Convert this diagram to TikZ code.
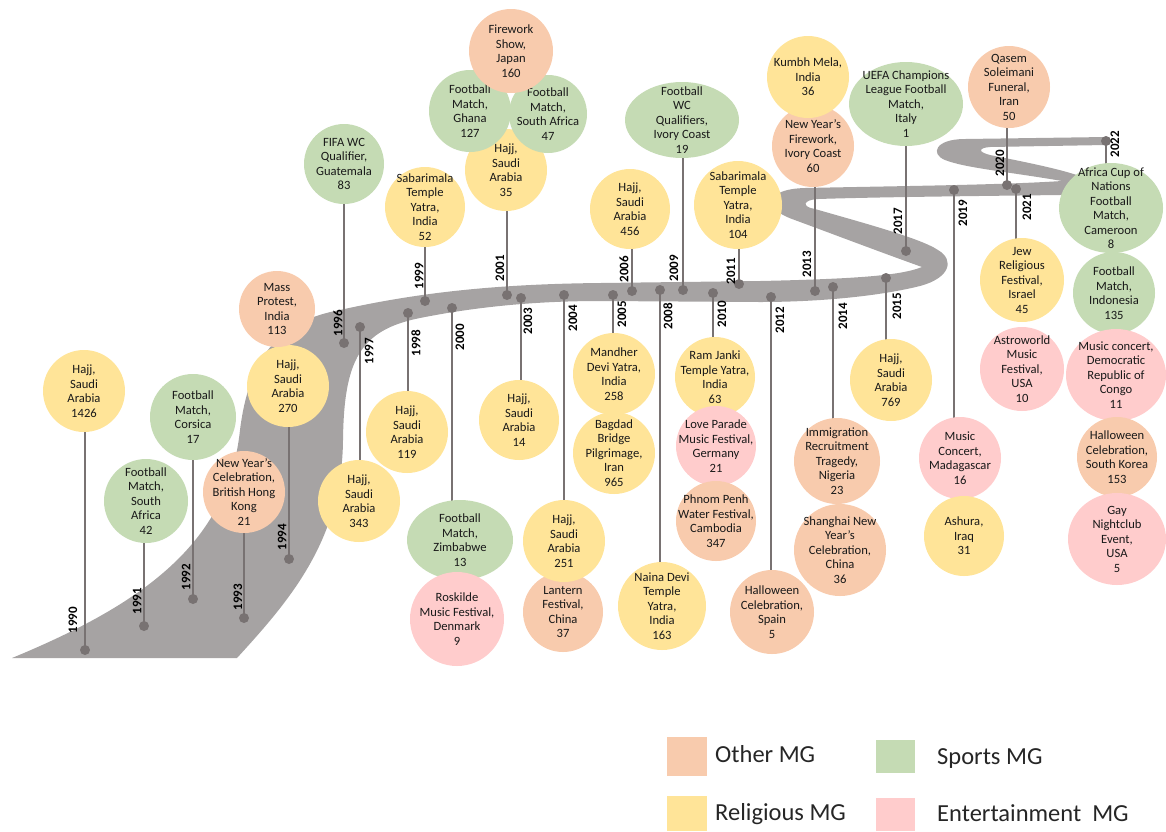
\documentclass[tikz,border=0pt]{standalone}
\usepackage{fontspec}
\setmainfont{Carlito}
\usetikzlibrary{shapes.geometric}
\definecolor{cOth}{RGB}{248,203,173}
\definecolor{cSpo}{RGB}{197,219,180}
\definecolor{cRel}{RGB}{255,228,152}
\definecolor{cEnt}{RGB}{255,204,204}
\definecolor{cRoad}{RGB}{166,163,163}
\definecolor{cStem}{RGB}{120,114,114}
\definecolor{cTxt}{RGB}{25,25,25}
\pgfdeclarelayer{roadl}
\pgfdeclarelayer{steml}
\pgfsetlayers{roadl,steml,main}
\tikzset{
 txt/.style={align=center, inner sep=0pt, text=cTxt, font=\fontsize{12.6}{14.5}\selectfont},
 ci/.style={circle, inner sep=0pt, minimum size=#1},
 el/.style 2 args={ellipse, inner sep=0pt, minimum width=#1, minimum height=#2},
 oth/.style={fill=cOth}, spo/.style={fill=cSpo}, rel/.style={fill=cRel}, ent/.style={fill=cEnt},
 stem/.style={draw=cStem, line width=2.6pt},
 dotn/.style={circle, fill=cStem, inner sep=0pt, minimum size=10pt},
 yr/.style={rotate=90, inner sep=0pt, text=black, font=\fontsize{13}{13}\selectfont\bfseries},
 legt/.style={anchor=base west, inner sep=0pt, font=\fontsize{24.5}{28}\selectfont, text=black!85},
}
\newcommand\ev[4]{\node[#2] (#1) at #3 {}; \node[txt] (#1t) at (#1.center) {#4};}
\begin{document}
\begin{tikzpicture}[x=1pt,y=-1pt]
\useasboundingbox (0,0) rectangle (1166,831);
% road
\begin{pgfonlayer}{roadl}
\fill[cRoad] (12,658) .. controls (140,605) and (228,545) .. (240,430)
 .. controls (250,350) and (285,320) .. (340,310)
 .. controls (420,292) and (500,284) .. (600,283)
 -- (760,281)
 .. controls (850,279) and (900,276) .. (922,267)
 .. controls (880,252) and (830,233) .. (792,219)
 .. controls (762,208) and (765,189) .. (805,188)
 .. controls (900,186) and (1000,185) .. (1062,181)
 .. controls (1010,172) and (965,168) .. (945,160)
 .. controls (930,154) and (935,139) .. (965,139)
 -- (1106,137)
 .. controls (1112,137) and (1112,145) .. (1106,145)
 -- (990,147)
 .. controls (978,148) and (978,152) .. (990,155)
 .. controls (1030,163) and (1065,170) .. (1085,178)
 .. controls (1098,184) and (1090,195) .. (1060,195)
 .. controls (980,196) and (880,197) .. (818,199)
 .. controls (802,200) and (802,207) .. (815,209)
 .. controls (860,222) and (920,238) .. (938,250)
 .. controls (955,260) and (950,278) .. (920,286)
 .. controls (880,296) and (820,302) .. (760,302)
 -- (600,301)
 .. controls (540,301) and (480,306) .. (420,318)
 .. controls (360,330) and (344,360) .. (343,440)
 .. controls (342,540) and (290,600) .. (237,658)
 -- cycle;
\end{pgfonlayer}
% events
\ev{c1}{ci=82pt,rel}{(84,391)}{Hajj,\\Saudi\\Arabia\\1426}
\ev{c2}{ci=84pt,spo}{(146,501)}{Football\\Match,\\South\\Africa\\42}
\ev{c3}{ci=86pt,spo}{(193,417)}{Football\\Match,\\Corsica\\17}
\ev{c4}{ci=82pt,oth}{(244,492)}{New Year’s\\Celebration,\\British Hong\\Kong\\21}
\ev{c5}{ci=82pt,rel}{(288,386)}{Hajj,\\Saudi\\Arabia\\270}
\ev{c6}{ci=76pt,oth}{(277,309)}{Mass\\Protest,\\India\\113}
\ev{c7}{ci=80pt,spo}{(344,164)}{FIFA WC\\Qualifier,\\Guatemala\\83}
\ev{c8}{ci=82pt,rel}{(359,501)}{Hajj,\\Saudi\\Arabia\\343}
\ev{c9}{ci=82pt,rel}{(407,432)}{Hajj,\\Saudi\\Arabia\\119}
\ev{c10}{ci=80pt,rel}{(425,207)}{Sabarimala\\Temple\\Yatra,\\India\\52}
\ev{c11}{el={106pt}{80pt},spo}{(460,540)}{Football\\Match,\\Zimbabwe\\13}
\ev{c12}{ci=94pt,ent}{(457,619)}{Roskilde\\Music Festival,\\Denmark\\9}
\ev{c13}{ci=80pt,rel}{(519,420)}{Hajj,\\Saudi\\Arabia\\14}
\ev{c14}{ci=82pt,rel}{(506,170)}{Hajj,\\Saudi\\Arabia\\35}
\ev{c15}{ci=82pt,spo}{(470,111)}{Football\\Match,\\Ghana\\127}
\ev{c16}{ci=78pt,spo}{(548,114)}{Football\\Match,\\South Africa\\47}
\ev{c17}{ci=84pt,oth}{(511,51)}{Firework\\Show,\\Japan\\160}
\ev{c18}{ci=82pt,rel}{(614,374)}{Mandher\\Devi Yatra,\\India\\258}
\ev{c19}{ci=82pt,rel}{(614,453)}{Bagdad\\Bridge\\Pilgrimage,\\Iran\\965}
\ev{c21}{ci=80pt,oth}{(563,612)}{Lantern\\Festival,\\China\\37}
\ev{c20}{ci=82pt,rel}{(564,541)}{Hajj,\\Saudi\\Arabia\\251}
\ev{c22}{ci=88pt,rel}{(662,606)}{Naina Devi\\Temple\\Yatra,\\India\\163}
\ev{c23}{ci=80pt,rel}{(630,209)}{Hajj,\\Saudi\\Arabia\\456}
\ev{c24}{el={114pt}{76pt},spo}{(682,120)}{Football\\WC\\Qualifiers,\\Ivory Coast\\19}
\ev{c25}{ci=80pt,rel}{(715,377)}{Ram Janki\\Temple Yatra,\\India\\63}
\ev{c26}{ci=80pt,ent}{(716,446)}{Love Parade\\Music Festival,\\Germany\\21}
\ev{c27}{ci=80pt,oth}{(716,521)}{Phnom Penh\\Water Festival,\\Cambodia\\347}
\ev{c28}{ci=88pt,rel}{(738,205)}{Sabarimala\\Temple\\Yatra,\\India\\104}
\ev{c29}{ci=84pt,oth}{(772,612)}{Halloween\\Celebration,\\Spain\\5}
\ev{c30}{ci=82pt,oth}{(813,146)}{New Year’s\\Firework,\\Ivory Coast\\60}
\ev{c31}{ci=82pt,rel}{(808,77)}{Kumbh Mela,\\India\\36}
\ev{c32}{ci=86pt,oth}{(837,461)}{Immigration\\Recruitment\\Tragedy,\\Nigeria\\23}
\ev{c33}{ci=92pt,oth}{(840,550)}{Shanghai New\\Year’s\\Celebration,\\China\\36}
\ev{c34}{ci=82pt,rel}{(891,380)}{Hajj,\\Saudi\\Arabia\\769}
\ev{c35}{el={114pt}{84pt},spo}{(906,104)}{UEFA Champions\\League Football\\Match,\\Italy\\1}
\ev{c36}{ci=82pt,ent}{(960,458)}{Music\\Concert,\\Madagascar\\16}
\ev{c37}{ci=80pt,rel}{(964,536)}{Ashura,\\Iraq\\31}
\ev{c38}{ci=82pt,oth}{(1009,87)}{Qasem\\Soleimani\\Funeral,\\Iran\\50}
\ev{c39}{ci=84pt,rel}{(1022,280)}{Jew\\Religious\\Festival,\\Israel\\45}
\ev{c40}{ci=84pt,ent}{(1022,369)}{Astroworld\\Music\\Festival,\\USA\\10}
\ev{c41}{el={104pt}{90pt},spo}{(1111,208)}{Africa Cup of\\Nations\\Football\\Match,\\Cameroon\\8}
\ev{c42}{ci=82pt,spo}{(1114,293)}{Football\\Match,\\Indonesia\\135}
\ev{c43}{el={100pt}{92pt},ent}{(1116,375)}{Music concert,\\Democratic\\Republic of\\Congo\\11}
\ev{c44}{ci=80pt,oth}{(1117,457)}{Halloween\\Celebration,\\South Korea\\153}
\ev{c45}{el={98pt}{92pt},ent}{(1117,539)}{Gay\\Nightclub\\Event,\\USA\\5}
% dots
\foreach \n/\x/\y in {1990/85/650,1991/144/626,1992/193/599,1993/244/618,1994/289/559,
 1996/344/343,1997/360/327,1998/408/313,1999/425/301,2000/452/308,2001/507/295,
 2003/521/298,2004/564/295,2005/613/295,2006/632/291,2008/660/290,2009/683/290,
 2010/713/293,2011/739/284,2012/771/297,2013/815/291,2014/833/287,2015/886/278,
 2017/906/251,2019/954/190,2020/1007/185,2021/1016/189,2022/1106/141}
 {\node[dotn] (d\n) at (\x,\y) {};}
% stems
\begin{pgfonlayer}{steml}
\foreach \n/\c in {1990/c1,1991/c2,1992/c3,1993/c4,1994/c5,1996/c7,1997/c8,1998/c9,
 1999/c10,2000/c11,2001/c14,2003/c13,2004/c20,2005/c18,2006/c23,2008/c22,2009/c24,
 2010/c25,2011/c28,2012/c29,2013/c30,2014/c32,2015/c34,2017/c35,2019/c36,2020/c38,
 2021/c39,2022/c41}
 {\draw[stem] (d\n.center) -- (d\n.center |- \c.center);}
\end{pgfonlayer}
% year labels
\foreach \n/\x/\y in {1990/73/620,1991/137/601,1992/186/577,1993/238/597,1994/282/537,
 1996/338/323,1997/369/351,1998/416/343,1999/419/276,2000/460/337,2001/500/268,
 2003/528/321,2004/573/318,2005/622/314,2006/624/269,2008/668/316,2009/674/268,
 2010/722/314,2011/731/271,2012/780/320,2013/807/264,2014/843/316,2015/897/306,
 2017/898/221,2019/963/213,2020/1000/163,2021/1027/207,2022/1115/144}
 {\node[yr] (y\n) at (\x,\y) {\n};}
% legend
\fill[cOth] (667,737) rectangle (707,776);
\fill[cSpo] (876,740) rectangle (915,773);
\fill[cRel] (667,796) rectangle (707,831);
\fill[cEnt] (876,798) rectangle (915,831);
\node[legt] (lo) at (715,762) {Other MG};
\node[legt] (ls) at (937,764) {Sports MG};
\node[legt] (lr) at (715,820) {Religious MG};
\node[legt] (le) at (937,821) {Entertainment~ MG};
\end{tikzpicture}
\end{document}
